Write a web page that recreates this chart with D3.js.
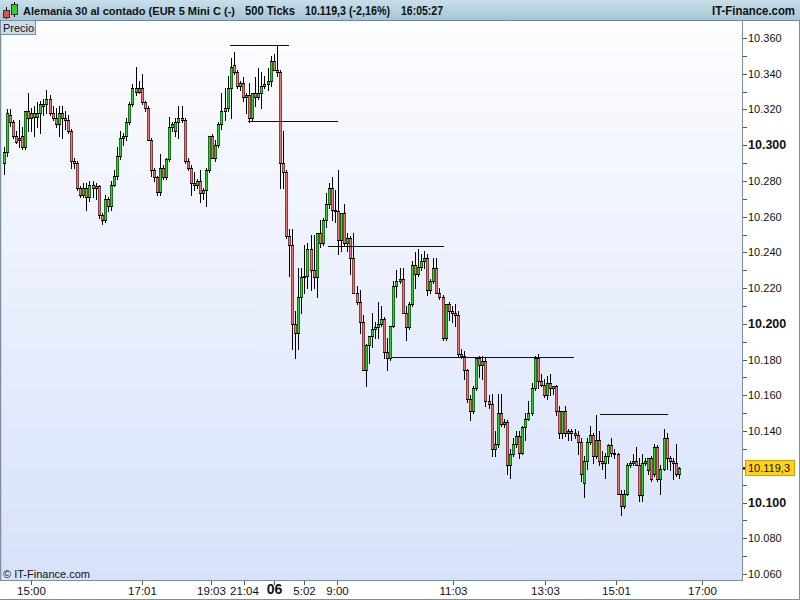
<!DOCTYPE html>
<html><head><meta charset="utf-8">
<script src="https://cdn.jsdelivr.net/npm/d3@7"></script>
<style>html,body{margin:0;padding:0;background:#fff;}svg{display:block;font-family:"Liberation Sans",Arial,sans-serif;}</style>
</head><body>
<script>
const opens=[10290,10296,10317,10313,10305,10303,10305,10299,10319,10315,10318,10316,10318,10323,10323,10326,10318,10315,10312,10318,10315,10314,10308,10291,10290,10276,10272,10276,10271,10278,10276,10277,10261,10258,10270,10266,10278,10283,10294,10304,10305,10313,10323,10332,10330,10332,10324,10321,10303,10286,10282,10274,10287,10282,10292,10310,10308,10313,10315,10314,10291,10287,10279,10278,10280,10273,10275,10286,10305,10293,10300,10312,10319,10321,10332,10345,10341,10333,10335,10327,10328,10315,10329,10327,10329,10333,10334,10336,10347,10342,10341,10290,10285,10249,10244,10200,10195,10215,10226,10227,10242,10230,10226,10251,10245,10258,10267,10276,10264,10263,10247,10262,10245,10248,10237,10217,10212,10201,10174,10188,10193,10197,10198,10200,10203,10184,10181,10199,10221,10224,10225,10206,10198,10211,10233,10228,10232,10235,10237,10219,10224,10231,10217,10215,10192,10211,10207,10206,10205,10183,10182,10174,10158,10151,10164,10181,10177,10179,10157,10155,10130,10133,10150,10144,10145,10121,10127,10133,10137,10128,10142,10147,10150,10164,10181,10168,10166,10160,10167,10164,10165,10151,10139,10151,10139,10140,10139,10138,10134,10111,10123,10134,10138,10126,10135,10123,10122,10126,10132,10128,10127,10105,10098,10105,10121,10122,10123,10121,10104,10122,10118,10125,10116,10131,10113,10119,10136,10125,10123,10122,10116];
const highs=[10299,10320,10320,10314,10308,10314,10310,10319,10329,10321,10322,10324,10325,10326,10331,10328,10322,10321,10322,10322,10319,10317,10309,10293,10291,10277,10279,10279,10280,10280,10279,10278,10262,10272,10271,10280,10286,10299,10308,10307,10315,10324,10334,10344,10336,10340,10325,10322,10304,10287,10283,10295,10289,10293,10316,10313,10315,10322,10322,10315,10293,10289,10285,10281,10286,10276,10287,10305,10306,10303,10313,10329,10332,10339,10349,10352,10342,10336,10338,10329,10335,10329,10338,10343,10341,10339,10343,10350,10351,10356,10342,10308,10286,10253,10253,10207,10231,10231,10244,10245,10250,10250,10251,10258,10259,10273,10279,10282,10275,10286,10261,10267,10251,10249,10251,10221,10219,10205,10189,10193,10206,10201,10212,10210,10204,10192,10192,10224,10230,10231,10231,10210,10212,10235,10240,10242,10239,10241,10239,10225,10237,10237,10220,10216,10211,10212,10210,10211,10207,10186,10185,10175,10160,10165,10181,10182,10182,10181,10160,10161,10140,10161,10161,10147,10146,10130,10136,10140,10140,10143,10150,10157,10167,10182,10183,10172,10169,10171,10172,10165,10166,10154,10150,10154,10141,10141,10141,10140,10136,10126,10136,10143,10139,10149,10140,10129,10128,10133,10136,10130,10128,10107,10107,10122,10123,10127,10131,10125,10127,10125,10125,10126,10133,10132,10121,10141,10139,10126,10125,10133,10120];
const lows=[10284,10294,10311,10304,10301,10299,10298,10298,10308,10308,10305,10310,10307,10317,10318,10317,10314,10310,10305,10304,10309,10307,10287,10287,10275,10271,10271,10264,10269,10271,10270,10259,10256,10257,10263,10264,10277,10281,10292,10300,10303,10312,10322,10328,10329,10323,10319,10303,10283,10280,10272,10272,10281,10281,10291,10308,10305,10304,10313,10290,10286,10272,10275,10276,10268,10270,10266,10285,10293,10291,10299,10309,10314,10319,10315,10340,10332,10331,10325,10318,10313,10314,10322,10326,10321,10332,10331,10333,10342,10339,10276,10276,10248,10227,10186,10181,10186,10206,10217,10220,10219,10220,10215,10243,10244,10254,10265,10258,10257,10239,10241,10244,10241,10228,10217,10211,10195,10174,10165,10178,10187,10192,10192,10199,10181,10174,10180,10198,10215,10223,10206,10191,10197,10210,10220,10227,10230,10231,10216,10217,10223,10217,10214,10191,10191,10202,10201,10199,10182,10181,10169,10156,10146,10150,10163,10170,10169,10154,10153,10126,10126,10131,10143,10142,10116,10114,10126,10131,10125,10127,10135,10146,10149,10163,10164,10165,10159,10158,10160,10161,10149,10136,10136,10137,10135,10135,10136,10127,10112,10103,10119,10133,10122,10125,10121,10119,10114,10122,10126,10125,10105,10093,10097,10104,10120,10121,10121,10101,10101,10121,10116,10112,10115,10112,10105,10118,10119,10118,10113,10115,10114];
const closes=[10296,10318,10313,10305,10302,10304,10299,10319,10315,10318,10316,10318,10323,10322,10326,10318,10315,10312,10318,10315,10314,10308,10291,10290,10276,10272,10276,10271,10278,10276,10277,10261,10258,10270,10266,10278,10283,10294,10304,10305,10313,10323,10332,10330,10332,10324,10321,10303,10286,10282,10274,10287,10282,10292,10310,10312,10313,10315,10314,10291,10287,10279,10278,10280,10273,10275,10286,10305,10293,10300,10312,10319,10321,10332,10344,10341,10333,10335,10327,10328,10315,10329,10327,10329,10333,10334,10336,10347,10342,10341,10290,10285,10249,10244,10200,10195,10215,10226,10227,10242,10230,10226,10251,10245,10258,10267,10276,10264,10263,10247,10262,10245,10248,10237,10217,10212,10201,10174,10188,10193,10197,10198,10200,10203,10184,10181,10199,10221,10224,10225,10206,10198,10211,10233,10228,10232,10235,10237,10219,10224,10231,10217,10215,10192,10211,10207,10206,10205,10183,10182,10174,10158,10151,10164,10181,10177,10179,10157,10155,10130,10133,10150,10144,10145,10121,10127,10133,10137,10128,10142,10147,10150,10164,10181,10168,10166,10160,10167,10164,10165,10151,10139,10151,10139,10140,10139,10138,10134,10116,10123,10134,10138,10126,10135,10123,10122,10126,10132,10128,10127,10105,10098,10105,10121,10122,10123,10121,10104,10122,10123,10125,10113,10131,10113,10119,10136,10125,10123,10122,10116,10119.3];

// horizontal support / resistance levels (price, from candle index, to candle index)
const levelPrices=[10356,10313.5,10243.5,10181.5,10149.5];
const levelFrom=[73.8,79.6,105.7,126.5,194.3];
const levelTo=[93,109,143.5,185.8,216.5];

// time axis labels at candle index positions
const xTickLabels=["15:00","17:01","19:03","21:04","06","5:02","9:00","11:03","13:03","15:01","17:00"];
const xTickIndex=[9,45,67.5,78.5,88,98,108.5,146.5,176.5,199.5,227.5];
const xTickBold=[false,false,false,false,true,false,false,false,false,false,false];

const yTickValues=[10060,10080,10100,10140,10160,10180,10200,10220,10240,10260,10280,10300,10320,10340,10360];
const yBoldValues=[10100,10200,10300];
const lastPrice=10119.3;
const headerTexts=["Alemania 30 al contado (EUR 5 Mini C (-)","500 Ticks","10.119,3 (-2,16%)","16:05:27","IT-Finance.com"];

const W=800,H=600;
const plotL=1,plotR=742,plotT=21,plotB=580;
const svg=d3.select("body").append("svg").attr("width",W).attr("height",H);
const defs=svg.append("defs");
const gBg=defs.append("linearGradient").attr("id","bg").attr("x1",0).attr("y1",0).attr("x2",0).attr("y2",1);
gBg.append("stop").attr("offset","0%").attr("stop-color","#fdfdff");
gBg.append("stop").attr("offset","100%").attr("stop-color","#d7e1fa");
const gHd=defs.append("linearGradient").attr("id","hd").attr("x1",0).attr("y1",0).attr("x2",0).attr("y2",1);
gHd.append("stop").attr("offset","0%").attr("stop-color","#c8dfea");
gHd.append("stop").attr("offset","100%").attr("stop-color","#a6c6d5");

svg.append("rect").attr("width",W).attr("height",H).attr("fill","#fff");
svg.append("rect").attr("x",plotL).attr("y",plotT).attr("width",plotR-plotL).attr("height",plotB-plotT).attr("fill","url(#bg)");

const deLocale=d3.formatLocale({decimal:",",thousands:".",grouping:[3],currency:["€",""]});
const fmt=deLocale.format(",.0f");
const fmtLast=deLocale.format(",.1f");

const x=d3.scaleLinear().domain([0,240]).range([3.5,740.3]);
const y=d3.scaleLinear().domain([10060,10360]).range([574,38]);

// candles
const data=opens.map((o,i)=>({i,o,h:highs[i],l:lows[i],c:closes[i]}));
const cg=svg.append("g");
data.forEach(d=>{
  const cx=Math.round(x(d.i));
  const hi=Math.max(d.h,d.o,d.c), lo=Math.min(d.l,d.o,d.c);
  cg.append("line").attr("x1",cx+0.5).attr("x2",cx+0.5)
    .attr("y1",Math.round(y(hi))).attr("y2",Math.round(y(lo))+1)
    .attr("stroke","#000").attr("stroke-width",1);
});
data.forEach(d=>{
  const cx=Math.round(x(d.i));
  const top=Math.round(y(Math.max(d.o,d.c))), bot=Math.round(y(Math.min(d.o,d.c)));
  if(bot-top<1){
    cg.append("line").attr("x1",cx-1).attr("x2",cx+2).attr("y1",top+0.5).attr("y2",top+0.5).attr("stroke","#000");
  } else {
    cg.append("rect").attr("x",cx-1).attr("y",top).attr("width",3).attr("height",bot-top+1)
      .attr("fill","#000");
    cg.append("rect").attr("x",cx-0.55).attr("y",top+1).attr("width",2.1).attr("height",Math.max(0,bot-top-1))
      .attr("fill",d.c>=d.o?"#2fd12f":"#ec7470");
  }
});

// level lines
levelPrices.forEach((p,k)=>{
  const yy=Math.round(y(p))+0.5;
  svg.append("line").attr("x1",x(levelFrom[k])).attr("x2",x(levelTo[k])).attr("y1",yy).attr("y2",yy)
    .attr("stroke","#111").attr("stroke-width",1.2);
});

// frame
svg.append("line").attr("x1",0.5).attr("x2",0.5).attr("y1",20).attr("y2",581).attr("stroke","#7a909e").attr("stroke-width",1.5);
svg.append("line").attr("x1",plotR+0.5).attr("x2",plotR+0.5).attr("y1",20).attr("y2",581).attr("stroke","#7a909e");
svg.append("line").attr("x1",0).attr("x2",plotR+1).attr("y1",plotB+0.5).attr("y2",plotB+0.5).attr("stroke","#7a909e");
svg.append("line").attr("x1",799.5).attr("x2",799.5).attr("y1",0).attr("y2",600).attr("stroke","#7a909e");
svg.append("line").attr("x1",0).attr("x2",800).attr("y1",599.5).attr("y2",599.5).attr("stroke","#7a909e");

// y axis
const ya=svg.append("g");
d3.range(10060,10361,10).forEach(v=>{
  const yy=Math.round(y(v))+0.5;
  ya.append("line").attr("x1",plotR+1).attr("x2",plotR+5).attr("y1",yy).attr("y2",yy).attr("stroke","#555");
});
yTickValues.forEach(v=>{
  const bold=yBoldValues.includes(v);
  ya.append("text").attr("x",748).attr("y",y(v)+4)
    .attr("font-size",bold?12.5:11).attr("font-weight",bold?"bold":"normal").attr("fill","#111")
    .text(fmt(v));
});
// last price box
const ly=Math.round(y(lastPrice));
ya.append("line").attr("x1",plotR+1).attr("x2",plotR+5).attr("y1",ly+0.5).attr("y2",ly+0.5).attr("stroke","#000").attr("stroke-width",2);
ya.append("rect").attr("x",745.5).attr("y",ly-7.5).attr("width",49).attr("height",15).attr("fill","#ffd21a").attr("stroke","#c9a200");
ya.append("text").attr("x",748).attr("y",ly+4).attr("font-size",11).attr("fill","#111").text(fmtLast(lastPrice));

// x axis
const xa=svg.append("g");
xTickIndex.forEach((ix,k)=>{
  const xx=Math.round(x(ix))+0.5;
  xa.append("line").attr("x1",xx).attr("x2",xx).attr("y1",plotB+1).attr("y2",plotB+5).attr("stroke","#555");
  xa.append("text").attr("x",xx).attr("y",xTickBold[k]?594:595).attr("text-anchor","middle")
    .attr("font-size",xTickBold[k]?14:11.5).attr("font-weight",xTickBold[k]?"bold":"normal")
    .attr("fill","#111").text(xTickLabels[k]);
});

// header
svg.append("rect").attr("x",0).attr("y",0).attr("width",W).attr("height",20).attr("fill","url(#hd)");
svg.append("line").attr("x1",0).attr("x2",W).attr("y1",20.5).attr("y2",20.5).attr("stroke","#6f8796");
const hg=svg.append("g");
hg.append("line").attr("x1",6.5).attr("x2",6.5).attr("y1",7).attr("y2",19).attr("stroke","#000");
hg.append("rect").attr("x",3.5).attr("y",10.5).attr("width",6).attr("height",7).attr("fill","#e05050").attr("stroke","#333");
hg.append("line").attr("x1",14.5).attr("x2",14.5).attr("y1",2).attr("y2",17).attr("stroke","#000");
hg.append("rect").attr("x",11.5).attr("y",4.5).attr("width",6).attr("height",10).attr("fill","#33cc33").attr("stroke","#333");
const hX=[23,245,305,401,712], hLen=[212,50,85,42,83], hSize=[11,12,12,12,12];
headerTexts.forEach((t,k)=>{
  hg.append("text").attr("x",hX[k]).attr("y",15).attr("font-size",hSize[k]).attr("font-weight","bold").attr("fill","#111")
    .attr("textLength",hLen[k]).attr("lengthAdjust","spacingAndGlyphs").text(t);
});

// Precio label
svg.append("rect").attr("x",0.5).attr("y",20.5).attr("width",35).attr("height",14).attr("fill","#c8dde9").attr("stroke","#7a909e");
svg.append("text").attr("x",3).attr("y",31.5).attr("font-size",11).attr("fill","#111").text("Precio");

// copyright
svg.append("text").attr("x",3).attr("y",578).attr("font-size",11).attr("fill","#111").text("© IT-Finance.com");
</script>
</body></html>
